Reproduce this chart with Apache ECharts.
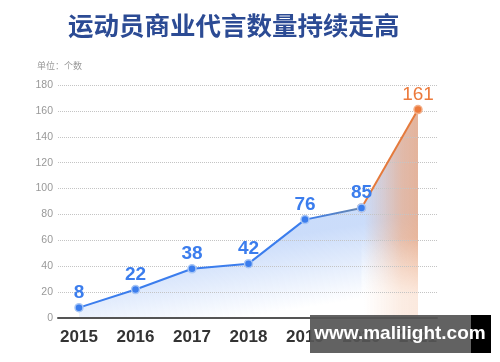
<!DOCTYPE html>
<html><head><meta charset="utf-8">
<script src="https://cdn.jsdelivr.net/npm/echarts@6/dist/echarts.min.js"></script>
<style>html,body{margin:0;padding:0;background:#fff}#c{width:500px;height:362px}</style>
</head><body><div id="c"></div>
<script>
const years = ['2015','2016','2017','2018','2019','2020','2021'];
const allValues = [8, 22, 38, 42, 76, 85, 161];
const blueValues = [8, 22, 38, 42, 76, 85, null];
const orangeValues = [null, null, null, null, null, 85, 161];
const yTicks = [0, 20, 40, 60, 80, 100, 120, 140, 160, 180];

const chart = echarts.init(document.getElementById('c'));
const BLUE = '#3b7ded', ORANGE = '#ec7a3c';
const b = a => 'rgba(59,125,237,' + a + ')';
const o = a => 'rgba(239,162,115,' + a + ')';
const w = a => 'rgba(255,255,255,' + a + ')';
const G = (x, y, x2, y2, stops) => new echarts.graphic.LinearGradient(x, y, x2, y2, stops, true);
chart.setOption({
  animation: false,
  title: {
    text: '运动员商业代言数量持续走高', left: 63, top: 8,
    textStyle: { fontSize: 25.5, fontWeight: 'bold', color: '#2c4b94', fontFamily: 'Noto Sans CJK SC' }
  },
  graphic: [
    { type: 'text', left: 37, top: 61, style: { text: '单位：个数', fontSize: 9, fill: '#999', fontFamily: 'Noto Sans CJK SC' } },
    { type: 'rect', shape: { x: 310, y: 315, width: 161, height: 38 }, style: { fill: 'rgba(85,85,85,0.92)' }, z: 100 },
    { type: 'rect', shape: { x: 471, y: 315, width: 20, height: 38 }, style: { fill: '#000' }, z: 100 },
    { type: 'text', x: 400, y: 334, z: 101, style: { text: 'www.malilight.com', fill: '#fff', fontSize: 19, fontWeight: 'bold', fontFamily: 'Liberation Sans', align: 'center', verticalAlign: 'middle' } }
  ],
  grid: [
    { left: 58, right: 63, top: 85, bottom: 44 },
    { left: 79, right: 82, top: 85, bottom: 44 }
  ],
  xAxis: [
    { gridIndex: 0, type: 'value', min: 0, max: 1, z: 4, axisLine: { show: true, onZero: false, lineStyle: { color: '#555', width: 2 } }, axisTick: { show: false }, axisLabel: { show: false }, splitLine: { show: false } },
    { gridIndex: 1, type: 'category', data: years, boundaryGap: false, axisLine: { show: false }, axisTick: { show: false }, splitLine: { show: false },
      axisLabel: { margin: 11, fontSize: 17, fontWeight: 'bold', color: '#333', fontFamily: 'Liberation Sans' } }
  ],
  yAxis: [
    { gridIndex: 0, type: 'value', min: yTicks[0], max: yTicks[yTicks.length - 1], interval: 20, z: 3,
      axisLine: { show: false }, axisTick: { show: false },
      axisLabel: { margin: 5, fontSize: 10.5, color: '#999', fontFamily: 'Liberation Sans' },
      splitLine: { lineStyle: { type: 'dotted', color: '#c4c4c4', width: 1 } } },
    { gridIndex: 1, type: 'value', min: 0, max: 180, show: false, splitLine: { show: false } }
  ],
  series: [
    { type: 'line', xAxisIndex: 1, yAxisIndex: 1, data: allValues, symbol: 'none', silent: true,
      lineStyle: { width: 0, opacity: 0 },
      areaStyle: { color: G(297.5, 234.7, 309.3, 307.2, [
        { offset: 0, color: b(0.38) },
        { offset: 0.5, color: b(0.2) },
        { offset: 1, color: b(0) }]) },
      z: 1 },
    { type: 'line', xAxisIndex: 1, yAxisIndex: 1, data: orangeValues, symbol: 'none', silent: true,
      lineStyle: { width: 0, opacity: 0 },
      areaStyle: { color: G(364, 0, 418, 0, [
        { offset: 0, color: o(0) },
        { offset: 0.35, color: o(0.4) },
        { offset: 0.7, color: o(0.85) },
        { offset: 1, color: o(1) }]) },
      z: 1 },
    { type: 'line', xAxisIndex: 1, yAxisIndex: 1, data: orangeValues, symbol: 'none', silent: true,
      lineStyle: { width: 0, opacity: 0 },
      areaStyle: { color: G(0, 238, 0, 296, [
        { offset: 0, color: w(0) },
        { offset: 1, color: w(0.95) }]) },
      z: 1 },
    { type: 'line', xAxisIndex: 1, yAxisIndex: 1, data: orangeValues, symbol: 'circle', symbolSize: 8,
      itemStyle: { color: ORANGE, borderColor: '#f3b08a', borderWidth: 1.5 },
      lineStyle: { color: '#e57a3c', width: 2 },
      label: { show: true, position: 'top', distance: 1, color: ORANGE, fontSize: 19, fontFamily: 'Liberation Sans',
        formatter: p => p.dataIndex === 6 ? p.value : '' },
      z: 5 },
    { type: 'line', xAxisIndex: 1, yAxisIndex: 1, data: blueValues, symbol: 'circle', symbolSize: 8,
      itemStyle: { color: BLUE, borderColor: '#a8c6f5', borderWidth: 1.5 },
      lineStyle: { width: 2, color: G(79, 0, 362, 0, [
        { offset: 0, color: BLUE },
        { offset: 0.8, color: BLUE },
        { offset: 1, color: '#6a86aa' }]) },
      label: { show: true, position: 'top', distance: 1, color: BLUE, fontSize: 19, fontWeight: 'bold', fontFamily: 'Liberation Sans' },
      z: 6 }
  ]
});
</script></body></html>
